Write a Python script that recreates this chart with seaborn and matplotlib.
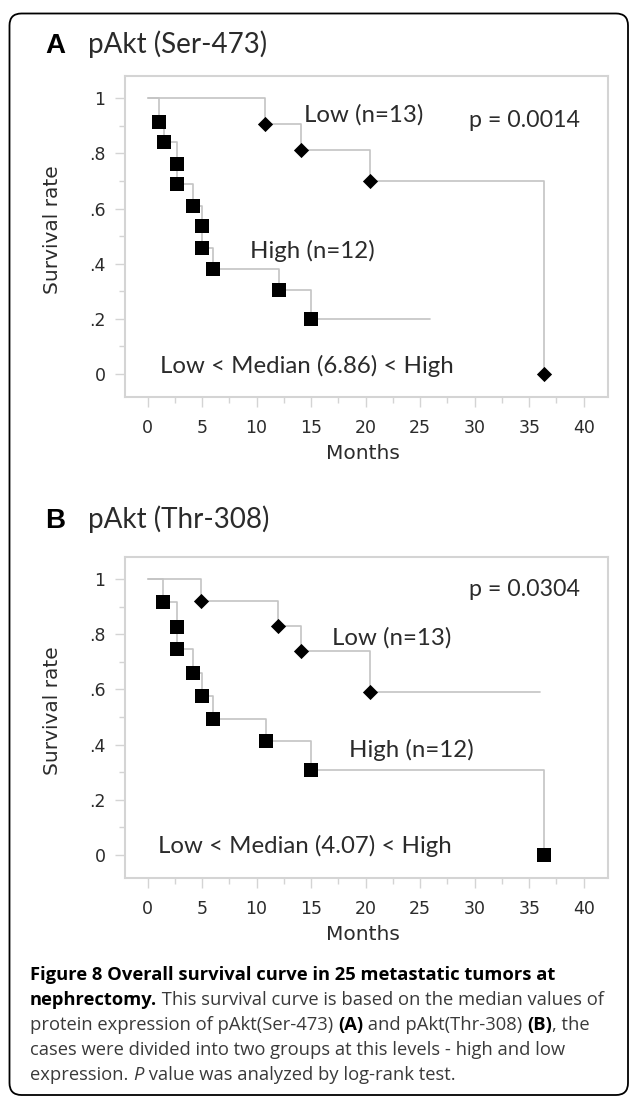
import numpy as np
import pandas as pd
import matplotlib
matplotlib.use("Agg")
import matplotlib.pyplot as plt
import seaborn as sns
from matplotlib.ticker import MultipleLocator
from matplotlib.patches import FancyBboxPatch
from matplotlib.transforms import Affine2D

# =========================
# data
# =========================
month_ticks = [0, 5, 10, 15, 20, 25, 30, 35, 40]
rate_ticks = [0, 0.2, 0.4, 0.6, 0.8, 1.0]
rate_labels = ["0", ".2", ".4", ".6", ".8", "1"]

# A: pAkt (Ser-473)
a_high_months = [1.05, 1.5, 2.73, 2.73, 4.15, 5.02, 5.02, 6.03, 12.08, 15.0]
a_high_rate = [0.915, 0.84, 0.76, 0.69, 0.61, 0.535, 0.455, 0.38, 0.305, 0.20]
a_high_end = 25.9
a_low_months = [10.77, 14.07, 20.4, 36.4]
a_low_rate = [0.908, 0.811, 0.70, 0.0]
a_low_end = 36.4

# B: pAkt (Thr-308)
b_high_months = [1.44, 2.73, 2.73, 4.19, 5.02, 6.03, 10.86, 14.95, 36.4]
b_high_rate = [0.915, 0.826, 0.746, 0.661, 0.577, 0.492, 0.413, 0.308, 0.0]
b_high_end = 36.4
b_low_months = [4.87, 12.0, 14.05, 20.4]
b_low_rate = [0.919, 0.83, 0.74, 0.589]
b_low_end = 36.0

W, H = 629, 1097
LINE = "#c4c4c4"
GRID = "#d4d4d4"
TXT = "#2b2b2b"
FONT = "Lato"
AXFONT = "DejaVu Sans"

sns.set_theme(style="white")
plt.rcParams["font.family"] = [FONT, "DejaVu Sans"]


def km_frame(months, rate, end):
    return pd.DataFrame({
        "Months": [0] + list(months) + [end],
        "Survival rate": [1.0] + list(rate) + [rate[-1]],
    })


def px_axes(left, top, right, bottom):
    return fig.add_axes([left / W, 1 - bottom / H, (right - left) / W, (bottom - top) / H])


fig = plt.figure(figsize=(W / 100, H / 100), dpi=100)

panels = [
    dict(box=(125, 76, 607.7, 396.7), letter="A", title="pAkt (Ser-473)", title_y=53,
         high=(a_high_months, a_high_rate, a_high_end), low=(a_low_months, a_low_rate, a_low_end),
         p="p = 0.0014", p_xy=(29.5, 0.895), low_xy=(14.35, 0.914), high_xy=(9.4, 0.42),
         med="Low < Median (6.86) < High", med_xy=(1.17, 0.004)),
    dict(box=(125, 556.7, 607.7, 877.7), letter="B", title="pAkt (Thr-308)", title_y=528,
         high=(b_high_months, b_high_rate, b_high_end), low=(b_low_months, b_low_rate, b_low_end),
         p="p = 0.0304", p_xy=(29.5, 0.939), low_xy=(16.9, 0.764), high_xy=(18.5, 0.353),
         med="Low < Median (4.07) < High", med_xy=(1.0, 0.008)),
]

for pan in panels:
    ax = px_axes(*pan["box"])
    for (months, rate, end), mk, size in [(pan["high"], "s", 92), (pan["low"], "D", 60)]:
        steps = km_frame(months, rate, end)
        sns.lineplot(data=steps, x="Months", y="Survival rate", estimator=None, sort=False,
                     drawstyle="steps-post", color=LINE, linewidth=1.2, ax=ax, zorder=2)
        sns.scatterplot(x=months, y=rate, marker=mk, s=size, color="black",
                        linewidth=0, ax=ax, zorder=3)

    ax.set_xlim(-2.07, 42.2)
    ax.set_ylim(-0.083, 1.081)
    ax.set_xticks(month_ticks)
    ax.set_xticklabels([str(m) for m in month_ticks], family=AXFONT)
    ax.set_yticks(rate_ticks)
    ax.set_yticklabels(rate_labels, family=AXFONT)
    ax.xaxis.set_minor_locator(MultipleLocator(2.5))
    ax.yaxis.set_minor_locator(MultipleLocator(0.1))
    ax.tick_params(which="both", direction="out", bottom=True, left=True, color=GRID,
                   width=1, labelsize=12.5, labelcolor=TXT)
    ax.tick_params(which="major", length=7)
    ax.tick_params(which="minor", length=4)
    ax.tick_params(axis="x", pad=9)
    ax.tick_params(axis="y", pad=7)
    for sp in ax.spines.values():
        sp.set_color(GRID)
        sp.set_linewidth(1.5)

    ax.set_xlabel("Months", fontsize=14.5, family=AXFONT, color=TXT)
    ax.xaxis.set_label_coords(0.493, -0.148)
    ax.set_ylabel("Survival rate", fontsize=14.5, family=AXFONT, color=TXT)
    ax.yaxis.set_label_coords(-0.13, 0.52)

    ax.text(*pan["p_xy"], pan["p"], fontsize=16.7, color=TXT, va="baseline")
    ax.text(*pan["low_xy"], "Low (n=13)", fontsize=17.3, color=TXT, va="baseline")
    ax.text(*pan["high_xy"], "High (n=12)", fontsize=17.3, color=TXT, va="baseline")
    ax.text(*pan["med_xy"], pan["med"], fontsize=17.3, color=TXT, va="baseline")

    fig.text(45 / W, 1 - pan["title_y"] / H, pan["letter"], fontsize=20, fontweight="bold",
             family="Liberation Sans", color="black", va="baseline")
    fig.text(88 / W, 1 - pan["title_y"] / H, pan["title"], fontsize=20, color=TXT, va="baseline")

# =========================
# caption
# =========================
caption = [
    (980, [("Figure 8 Overall survival curve in 25 metastatic tumors at", "bold")]),
    (1005, [("nephrectomy.", "bold"), (" This survival curve is based on the median values of", "normal")]),
    (1030, [("protein expression of pAkt(Ser-473) ", "normal"), ("(A)", "bold"),
            (" and pAkt(Thr-308) ", "normal"), ("(B)", "bold"), (", the", "normal")]),
    (1055, [("cases were divided into two groups at this levels - high and low", "normal")]),
    (1080, [("expression. ", "normal"), ("P", "italic"), (" value was analyzed by log-rank test.", "normal")]),
]
CAP_FONT = "Open Sans"
CAP_SIZE = 13.2


def seg_style(kind):
    st = dict(fontsize=CAP_SIZE, family=CAP_FONT, color="#3a3a3a")
    if kind == "bold":
        st.update(fontweight="bold", color="black")
    if kind == "italic":
        st.update(style="italic")
    return st


cap_ax = fig.axes[-1]
for y, parts in caption:
    prev = cap_ax.annotate(parts[0][0], xy=(30, H - y), xycoords="figure pixels",
                           va="baseline", annotation_clip=False, **seg_style(parts[0][1]))
    for txt, kind in parts[1:]:
        prev = cap_ax.annotate(txt, xy=(1, 0), xycoords=prev, va="bottom",
                               annotation_clip=False, **seg_style(kind))

# rounded frame around the whole figure
frame = FancyBboxPatch((9.5, 2), 618.5, 1081.5, boxstyle="round,pad=0,rounding_size=12",
                       transform=Affine2D().scale(1 / W, 1 / H) + fig.transFigure,
                       fill=False, edgecolor="black", linewidth=1.3)
fig.patches.append(frame)

fig.savefig("out.png", dpi=100)
